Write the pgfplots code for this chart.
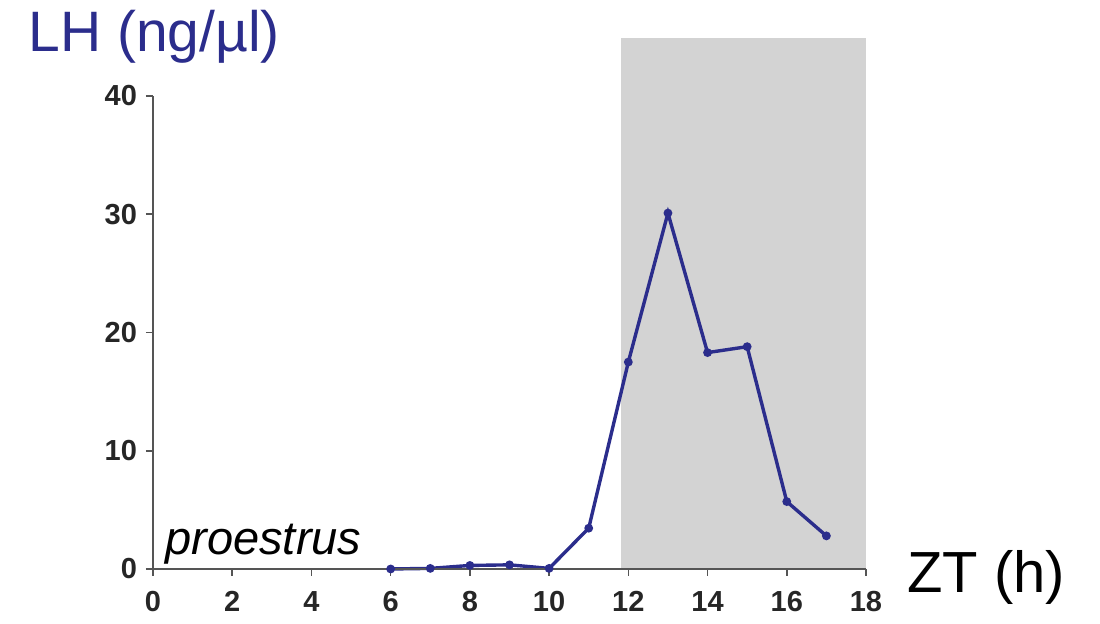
\documentclass[border=0pt]{standalone}
\usepackage{pgfplots}
\pgfplotsset{compat=1.18}
\usepackage{fontspec}
\setmainfont{Liberation Sans}
\definecolor{lhblue}{HTML}{2B2D8C}
\definecolor{bandgray}{HTML}{D3D3D3}
\definecolor{axgray}{HTML}{555555}
\begin{document}
\begin{tikzpicture}
\path[use as bounding box] (-76.5pt,-27.5pt) rectangle (473.5pt,284.5pt);
\begin{axis}[
  at={(0,0)}, anchor=south west,
  scale only axis, width=356.5pt, height=236.5pt,
  xmin=0, xmax=18, ymin=0, ymax=40,
  clip=false,
  axis x line=bottom, axis y line=left,
  axis line style={-, axgray, line width=1pt},
  xtick={0,2,...,18}, ytick={0,10,...,40},
  tick style={axgray, line width=0.8pt},
  tick align=outside, major tick length=3.5pt,
  /pgf/number format/assume math mode=true,
  tick label style={font=\fontsize{14.5}{16}\selectfont\bfseries, text=black!85},
  xticklabel style={yshift=-4pt},
  yticklabel style={xshift=-1pt},
]
\fill[bandgray] (axis cs:11.82,0) rectangle (axis cs:18,44.9);
\addplot[lhblue, line width=1.7pt, mark=*, mark size=1.3pt] coordinates {
 (6,0) (7,0.05) (8,0.3) (9,0.35) (10,0.05) (11,3.45) (12,17.5) (13,30.1) (14,18.3) (15,18.8) (16,5.7) (17,2.8)
};
\draw[axgray, line width=1pt] (axis cs:0,0) -- (axis cs:18,0);
\end{axis}
\node[anchor=base west, inner sep=0pt, text=lhblue, font=\fontsize{28.5}{32}\selectfont] at (-62.5pt,258.5pt) {LH (ng/µl)};
\node[anchor=base west, inner sep=0pt, font=\fontsize{29}{32}\selectfont] at (377pt,-12pt) {ZT (h)};
\node[anchor=base west, inner sep=0pt, font=\fontsize{23.5}{26}\selectfont\itshape] at (6pt,7pt) {proestrus};
\end{tikzpicture}
\end{document}
